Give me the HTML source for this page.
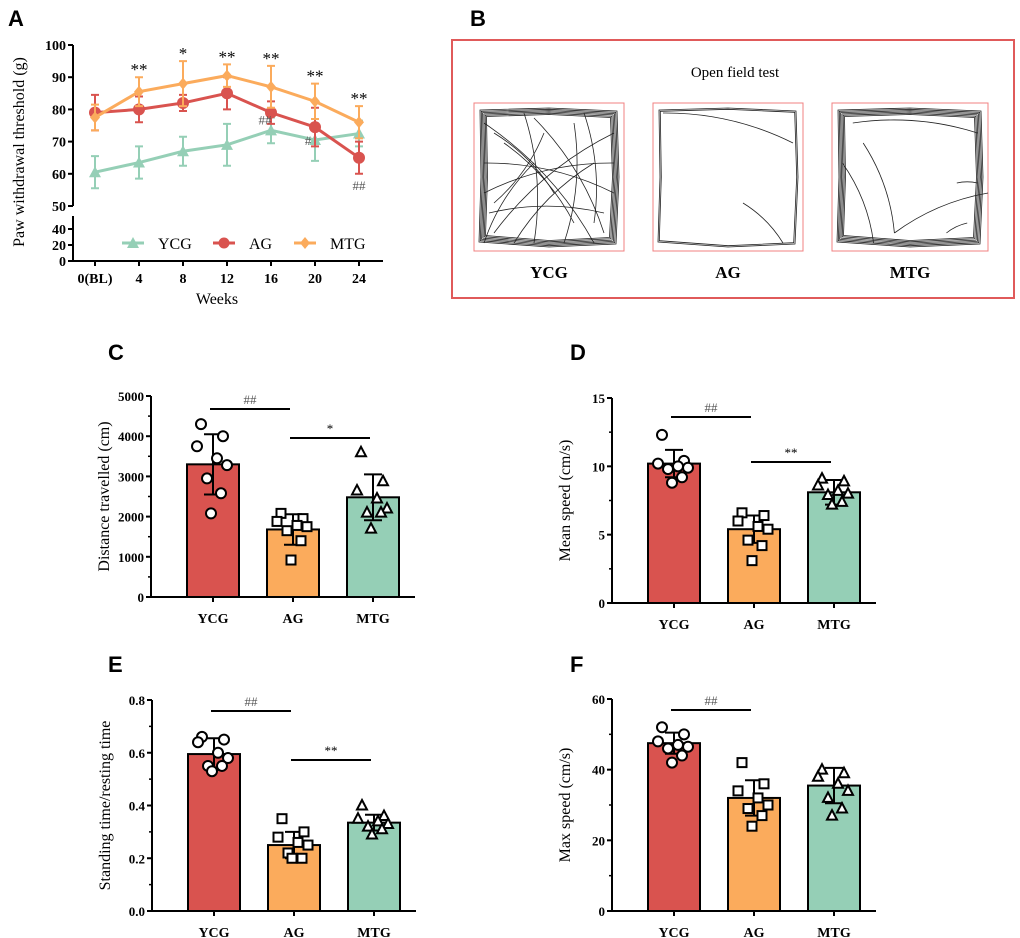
<!DOCTYPE html>
<html><head><meta charset="utf-8">
<style>
html,body{margin:0;padding:0;background:#fff;}
svg{display:block;font-family:"Liberation Serif",serif;}
.pl{font-family:"Liberation Sans",sans-serif;font-weight:bold;font-size:22px;}
</style></head><body>
<svg id="fig" width="1020" height="938" viewBox="0 0 1020 938">
<g id="gA"></g>
<g id="gB"></g>
<g id="gC"></g>
<g id="gD"></g>
<g id="gE"></g>
<g id="gF"></g>
</svg>
<script>
// ---------- Panel A data ----------
const weekLabels = ["0(BL)","4","8","12","16","20","24"];
const ycgMean = [60.5,63.5,67,69,73.5,70.5,72.5];
const ycgSd = [5,5,4.5,6.5,4,6.5,4];
const agMean = [79,80,82,85,79,74.5,65];
const agSd = [5.5,4,2.5,5,3.5,6,5];
const mtgMean = [77.5,85.5,88,90.5,87,82.5,76];
const mtgSd = [4,4.5,7,3.5,6.5,5.5,5];
const starLabels = ["","**","*","**","**","**","**"];
const upperTicks = [50,60,70,80,90,100];
const lowerTicks = [0,20,40];
// ---------- Bar panels data ----------
const groups = ["YCG","AG","MTG"];
const cMeans = [3300,1680,2480];
const cSds = [750,380,570];
const cPts = [[4300,4000,3750,3450,3280,2950,2580,2080],[2080,1950,1880,1780,1750,1650,1400,920],[3600,2880,2650,2450,2200,2100,2100,1700]];
const cTicks = [0,1000,2000,3000,4000,5000];
const dMeans = [10.2,5.4,8.1];
const dSds = [1.0,1.0,0.9];
const dPts = [[12.3,10.4,10.2,10.0,9.9,9.8,9.2,8.8],[6.6,6.4,6.0,5.6,5.4,4.6,4.2,3.1],[9.1,8.9,8.6,8.2,8.0,7.9,7.4,7.2]];
const dTicks = [0,5,10,15];
const eMeans = [0.595,0.25,0.335];
const eSds = [0.06,0.05,0.03];
const ePts = [[0.66,0.65,0.64,0.6,0.58,0.55,0.55,0.53],[0.35,0.3,0.28,0.26,0.25,0.22,0.2,0.2],[0.4,0.36,0.35,0.34,0.33,0.32,0.31,0.29]];
const eTicks = [0.0,0.2,0.4,0.6,0.8];
const fMeans = [47.5,32,35.5];
const fSds = [3,5,5];
const fPts = [[52,50,48,47,46.5,46,44,42],[42,36,34,32,30,29,27,24],[40,39,38,36,34,32,29,27]];
const fTicks = [0,20,40,60];

const NS="http://www.w3.org/2000/svg";
const RED="#d9534f",ORG="#fbab5c",GRN="#95cfb6";
function el(p,t,a,txt){const e=document.createElementNS(NS,t);for(const k in a)e.setAttribute(k,a[k]);if(txt!==undefined)e.textContent=txt;p.appendChild(e);return e;}

// ---------- Panel A ----------
(function(){
const g=document.getElementById('gA');
const t=el(g,'text',{x:8,y:26,class:'pl'},'A');


const ax=73;
const yU=v=>206-(v-50)*(206-45)/50;
const yL=v=>261-v*(261-229)/40;
const xs=i=>95+i*44;
let a=el(g,'path',{d:`M${ax},45V206M${ax},216V261H383`,stroke:'#000','stroke-width':2,fill:'none'});


upperTicks.forEach(v=>{el(g,'line',{x1:ax-5,x2:ax,y1:yU(v),y2:yU(v),stroke:'#000','stroke-width':2});
 const tx=el(g,'text',{x:ax-7,y:yU(v)+5,'text-anchor':'end','font-size':14,'font-weight':'bold'},v);
 });
lowerTicks.forEach(v=>{el(g,'line',{x1:ax-5,x2:ax,y1:yL(v),y2:yL(v),stroke:'#000','stroke-width':2});
 const tx=el(g,'text',{x:ax-7,y:yL(v)+5,'text-anchor':'end','font-size':14,'font-weight':'bold'},v);
 });
weekLabels.forEach((w,i)=>{el(g,'line',{x1:xs(i),x2:xs(i),y1:261,y2:266,stroke:'#000','stroke-width':2});
 const tx=el(g,'text',{x:xs(i),y:283,'text-anchor':'middle','font-size':14,'font-weight':'bold'},w);
 });
let xt=el(g,'text',{x:217,y:304,'text-anchor':'middle','font-size':16},'Weeks');

let yt=el(g,'text',{x:0,y:0,transform:'translate(24,152) rotate(-90)','text-anchor':'middle','font-size':16},'Paw withdrawal threshold (g)');

const series=[[ycgMean,ycgSd,GRN,'tri','ycg'],[agMean,agSd,RED,'circ','ag'],[mtgMean,mtgSd,ORG,'dia','mtg']];
series.forEach(([m,s,c,mk,n])=>{
 const sg=el(g,'g',{});
 
 m.forEach((v,i)=>{el(sg,'path',{d:`M${xs(i)},${yU(v-s[i])}V${yU(v+s[i])}M${xs(i)-4},${yU(v-s[i])}h8M${xs(i)-4},${yU(v+s[i])}h8`,stroke:c,'stroke-width':2,fill:'none'});});
 el(sg,'polyline',{points:m.map((v,i)=>xs(i)+','+yU(v)).join(' '),stroke:c,'stroke-width':3,fill:'none'});
 m.forEach((v,i)=>{const x=xs(i),y=yU(v);let p;
  if(mk==='tri')p=el(sg,'path',{d:`M${x},${y-6}L${x+6},${y+5}L${x-6},${y+5}Z`,fill:c});
  else if(mk==='circ')p=el(sg,'circle',{cx:x,cy:y,r:6,fill:c});
  else p=el(sg,'path',{d:`M${x},${y-6}L${x+5},${y}L${x},${y+6}L${x-5},${y}Z`,fill:c});
  });
});
mtgMean.forEach((v,i)=>{if(starLabels[i]){const tx=el(g,'text',{x:xs(i),y:yU(v+mtgSd[i])-2,'text-anchor':'middle','font-size':17},starLabels[i]);
 }});
[[4,'##',-1,yU(agMean[4])+12],[5,'#',-2,yU(agMean[5])+18],[6,'##',0,yU(agMean[6]-agSd[6])+16]].forEach(([i,s,dx,y])=>{
 const tx=el(g,'text',{x:xs(i)+dx-(i<6?5:0),y:y,'text-anchor':'middle','font-size':13,fill:'#555'},s);
 });
const lg=el(g,'g',{});
[[122,GRN,'YCG','tri'],[213,RED,'AG','circ'],[294,ORG,'MTG','dia']].forEach(([x,c,l,mk])=>{
 const eg=el(lg,'g',{});
 el(eg,'line',{x1:x,x2:x+22,y1:243,y2:243,stroke:c,'stroke-width':3});
 const cx=x+11;
 if(mk==='tri')el(eg,'path',{d:`M${cx},237L${cx+6},248L${cx-6},248Z`,fill:c});
 else if(mk==='circ')el(eg,'circle',{cx:cx,cy:243,r:5.5,fill:c});
 else el(eg,'path',{d:`M${cx},237L${cx+5},243L${cx},249L${cx-5},243Z`,fill:c});
 el(eg,'text',{x:x+36,y:249,'font-size':16},l);
});
})();

// ---------- Panel B ----------
(function(){
const g=document.getElementById('gB');
const t=el(g,'text',{x:470,y:26,class:'pl'},'B');

const fr=el(g,'rect',{x:452,y:40,width:562,height:258,fill:'none',stroke:'#e05a5a','stroke-width':2});

const tt=el(g,'text',{x:735,y:77,'text-anchor':'middle','font-size':15},'Open field test');

const boxes=[[474,'YCG',18],[653,'AG',4],[832,'MTG',9]];
boxes.forEach(([x,l,n],bi)=>{
 const bg=el(g,'g',{});
 el(bg,'rect',{x:x,y:103,width:(bi==2?156:150),height:148,fill:'none',stroke:'#f08080','stroke-width':1});
 const w=(bi==2?156:150);
 // perimeter tracks
 for(let k=0;k<(bi==1?2:6);k++){
  const o=4+k*1.3;
  el(bg,'path',{d:`M${x+o+2},${103+o+3}L${x+w/2},${103+o+1}L${x+w-o-3},${103+o+4}L${x+w-o-1},${103+74}L${x+w-o-4},${251-o-3}L${x+w/2},${251-o}L${x+o+1},${251-o-5}L${x+o+3},${103+74}Z`,fill:'none',stroke:'#222','stroke-width':0.8});
 }
 const inner={0:[[10,20,120,140],[20,130,140,30],[50,10,60,140],[10,60,140,90],[30,40,100,120],[100,20,90,140],[15,110,130,110],[70,30,20,100],[10,90,140,60],[40,140,120,60],[60,15,130,130],[20,30,80,90],[110,10,120,120],[10,140,60,60]],
  1:[[10,10,140,40],[90,100,130,140]],
  2:[[30,40,60,130],[60,130,150,90],[10,60,40,140],[110,130,130,120],[20,20,140,30],[120,80,140,80]]}[bi];
 inner.forEach(([x1,y1,x2,y2])=>{
  const mx=(x1+x2)/2+(y2-y1)*0.12, my=(y1+y2)/2+(x1-x2)*0.12;
  el(bg,'path',{d:`M${x+x1*w/150},${103+y1}Q${x+mx*w/150},${103+my} ${x+x2*w/150},${103+y2}`,fill:'none',stroke:'#222','stroke-width':0.8});
 });
 const lt=el(g,'text',{x:x+w/2,y:278,'text-anchor':'middle','font-size':17,'font-weight':'bold'},l);
 
});
})();

// ---------- Bar panels ----------
function barPanel(id,label,lx,ly,ax,yTop,yBot,maxV,ticks,fmt,means,sds,pts,title,markers,sig){
 const g=document.getElementById(id);
 const t=el(g,'text',{x:lx,y:ly,class:'pl'},label);
 
 const y=v=>yBot-v*(yBot-yTop)/maxV;
 const xc=i=>ax+62+i*80;
 const shapes=['circ','sq','tri'];
 const cols=[RED,ORG,GRN];
 means.forEach((m,i)=>{
  const b=el(g,'rect',{x:xc(i)-26,y:y(m),width:52,height:yBot-y(m),fill:cols[i],stroke:'#000','stroke-width':2});
  
  el(g,'path',{d:`M${xc(i)},${y(m-sds[i])}V${y(m+sds[i])}M${xc(i)-9},${y(m-sds[i])}h18M${xc(i)-9},${y(m+sds[i])}h18`,stroke:'#000','stroke-width':2,fill:'none'});
  const offs=[-12,10,-16,4,14,-6,8,-2];
  pts[i].forEach((v,k)=>{const px=xc(i)+offs[k],py=y(v);let p;
   if(shapes[i]==='circ')p=el(g,'circle',{cx:px,cy:py,r:5,fill:'#fff',stroke:'#000','stroke-width':2});
   else if(shapes[i]==='sq')p=el(g,'rect',{x:px-4.5,y:py-4.5,width:9,height:9,fill:'#fff',stroke:'#000','stroke-width':2});
   else p=el(g,'path',{d:`M${px},${py-5.5}L${px+5},${py+4}L${px-5},${py+4}Z`,fill:'#fff',stroke:'#000','stroke-width':2});
   });
  const tx=el(g,'text',{x:xc(i),y:yBot+26,'text-anchor':'middle','font-size':14,'font-weight':'bold'},groups[i]);
  
 });
 const a=el(g,'path',{d:`M${ax},${yTop}V${yBot}H${ax+264}`,stroke:'#000','stroke-width':2,fill:'none'});
 
 ticks.forEach(v=>{el(g,'line',{x1:ax-5,x2:ax,y1:y(v),y2:y(v),stroke:'#000','stroke-width':2});
  const tx=el(g,'text',{x:ax-7,y:y(v)+5,'text-anchor':'end','font-size':13,'font-weight':'bold'},fmt(v));
  });
 const minor=(ticks[1]-ticks[0])/2;
 for(let v=minor;v<maxV;v+=2*minor){el(g,'line',{x1:ax-3,x2:ax,y1:y(v),y2:y(v),stroke:'#000','stroke-width':1.5});}
 for(let i=0;i<3;i++){el(g,'line',{x1:xc(i),x2:xc(i),y1:yBot,y2:yBot+5,stroke:'#000','stroke-width':2});}
 const yt=el(g,'text',{x:0,y:0,transform:`translate(${ax-42},${(yTop+yBot)/2}) rotate(-90)`,'text-anchor':'middle','font-size':16},title);
 
 sig.forEach(([i1,i2,yy,s,c])=>{
  const sl=el(g,'line',{x1:xc(i1)-3,x2:xc(i2)-3,y1:yy,y2:yy,stroke:'#000','stroke-width':2});
  
  const st=el(g,'text',{x:(xc(i1)+xc(i2))/2-3,y:yy-5,'text-anchor':'middle','font-size':13,fill:c},s);
  
 });
}
barPanel('gC','C',108,360,151,396,597,5000,cTicks,v=>v,cMeans,cSds,cPts,'Distance travelled (cm)',0,[[0,1,409,'##','#555'],[1,2,438,'*','#000']]);
barPanel('gD','D',570,360,612,398,603,15,dTicks,v=>v,dMeans,dSds,dPts,'Mean speed (cm/s)',0,[[0,1,417,'##','#555'],[1,2,462,'**','#000']]);
barPanel('gE','E',108,672,152,700,911,0.8,eTicks,v=>v.toFixed(1),eMeans,eSds,ePts,'Standing time/resting time',0,[[0,1,711,'##','#555'],[1,2,760,'**','#000']]);
barPanel('gF','F',570,672,612,699,911,60,fTicks,v=>v,fMeans,fSds,fPts,'Max speed (cm/s)',0,[[0,1,710,'##','#555']]);
</script>
</body></html>
